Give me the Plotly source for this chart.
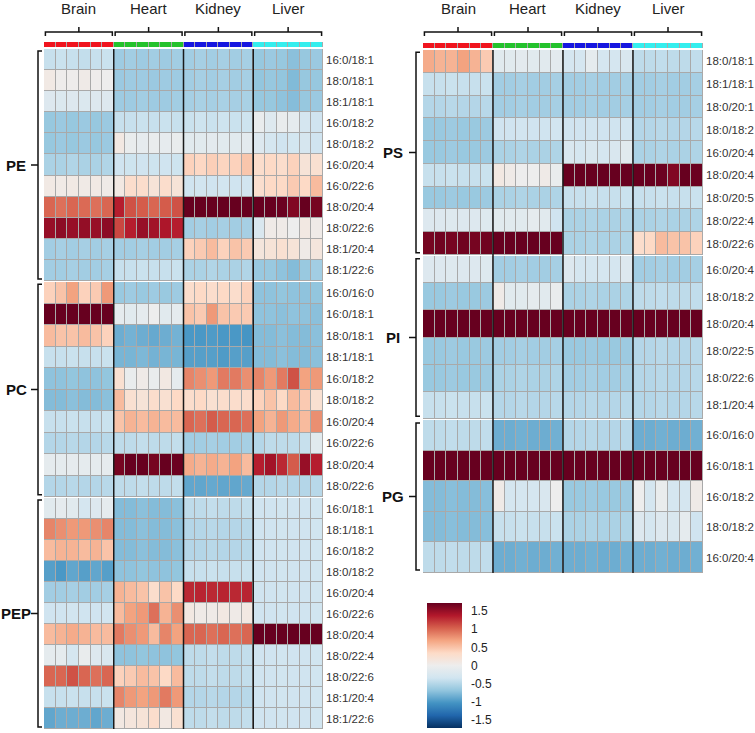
import plotly.graph_objects as go

# ---------------- data ----------------
tissues = ["Brain", "Heart", "Kidney", "Liver"]
n_rep = 6
tissue_colors = ["#f0141e", "#24c22c", "#1616e0", "#34eeee"]

PE_rows = ["16:0/18:1", "18:0/18:1", "18:1/18:1", "16:0/18:2", "18:0/18:2", "16:0/20:4",
           "16:0/22:6", "18:0/20:4", "18:0/22:6", "18:1/20:4", "18:1/22:6"]
PE_vals = [
    [-0.40, -0.38, -0.40, -0.42, -0.40, -0.38, -0.62, -0.60, -0.62, -0.60, -0.62, -0.60, -0.60, -0.58, -0.60, -0.58, -0.60, -0.58, -0.66, -0.64, -0.66, -0.72, -0.66, -0.64],
    [0.08, 0.02, 0.02, 0.05, 0.02, 0.00, -0.64, -0.62, -0.62, -0.64, -0.62, -0.62, -0.60, -0.58, -0.60, -0.58, -0.60, -0.58, -0.68, -0.66, -0.68, -0.76, -0.66, -0.66],
    [-0.20, -0.22, -0.20, -0.22, -0.20, -0.20, -0.62, -0.62, -0.60, -0.62, -0.62, -0.60, -0.58, -0.56, -0.58, -0.56, -0.58, -0.56, -0.66, -0.66, -0.70, -0.74, -0.66, -0.64],
    [-0.66, -0.64, -0.66, -0.64, -0.66, -0.64, -0.40, -0.40, -0.38, -0.40, -0.38, -0.40, -0.38, -0.36, -0.38, -0.36, -0.38, -0.36, -0.05, -0.18, -0.05, -0.10, -0.30, -0.35],
    [-0.66, -0.64, -0.66, -0.64, -0.66, -0.64, 0.10, -0.05, -0.08, -0.05, -0.08, -0.05, -0.15, -0.15, -0.12, -0.15, -0.15, -0.12, -0.20, -0.30, -0.35, -0.32, -0.28, -0.35],
    [-0.55, -0.55, -0.52, -0.55, -0.55, -0.52, -0.35, -0.36, -0.35, -0.36, -0.35, -0.36, 0.40, 0.36, 0.42, 0.38, 0.40, 0.48, 0.30, 0.35, 0.30, 0.40, 0.20, 0.25],
    [0.08, 0.06, 0.08, 0.06, 0.08, 0.05, 0.10, 0.30, 0.30, 0.20, 0.30, 0.20, -0.35, -0.33, -0.35, -0.33, -0.35, -0.33, 0.28, 0.35, 0.35, 0.45, 0.35, 0.55],
    [1.00, 0.95, 1.00, 0.98, 0.95, 1.00, 1.35, 1.10, 1.05, 1.00, 1.05, 1.10, 1.75, 1.72, 1.75, 1.72, 1.75, 1.72, 1.75, 1.75, 1.70, 1.60, 1.75, 1.65],
    [1.50, 1.55, 1.50, 1.52, 1.50, 1.55, 1.15, 1.35, 1.50, 1.45, 1.40, 1.35, -0.60, -0.58, -0.60, -0.58, -0.60, -0.58, -0.25, 0.05, 0.05, 0.00, 0.10, 0.05],
    [-0.60, -0.58, -0.60, -0.58, -0.60, -0.58, -0.60, -0.60, -0.58, -0.60, -0.60, -0.58, 0.40, 0.45, 0.55, 0.40, 0.50, 0.45, 0.15, 0.20, 0.25, 0.20, 0.05, 0.15],
    [-0.60, -0.60, -0.58, -0.60, -0.60, -0.58, -0.40, -0.40, -0.38, -0.40, -0.40, -0.38, -0.55, -0.55, -0.52, -0.55, -0.55, -0.52, -0.65, -0.65, -0.70, -0.75, -0.65, -0.60],
]

PC_rows = ["16:0/16:0", "16:0/18:1", "18:0/18:1", "18:1/18:1", "16:0/18:2", "18:0/18:2",
           "16:0/20:4", "16:0/22:6", "18:0/20:4", "18:0/22:6"]
PC_vals = [
    [0.40, 0.50, 0.70, 0.40, 0.45, 0.75, -0.65, -0.62, -0.65, -0.62, -0.65, -0.62, 0.30, 0.35, 0.30, 0.35, 0.30, 0.40, -0.70, -0.70, -0.68, -0.70, -0.70, -0.68],
    [1.75, 1.72, 1.75, 1.72, 1.75, 1.72, -0.10, -0.15, -0.10, 0.00, -0.15, -0.10, 0.50, 0.45, 0.75, 0.50, 0.45, 0.45, -0.70, -0.70, -0.72, -0.70, -0.70, -0.72],
    [0.55, 0.50, 0.50, 0.55, 0.50, 0.40, -0.85, -0.82, -0.85, -0.88, -0.85, -0.82, -1.00, -1.00, -0.98, -1.00, -1.00, -1.02, -0.75, -0.75, -0.72, -0.75, -0.75, -0.72],
    [-0.40, -0.40, -0.38, -0.40, -0.40, -0.38, -0.80, -0.80, -0.78, -0.82, -0.80, -0.80, -0.95, -0.95, -0.95, -0.98, -0.95, -0.95, -0.75, -0.75, -0.72, -0.75, -0.75, -0.72],
    [-0.70, -0.70, -0.68, -0.70, -0.70, -0.68, 0.25, -0.05, 0.05, -0.05, 0.10, -0.10, 0.85, 0.80, 0.75, 0.90, 0.90, 0.80, 0.85, 0.75, 0.90, 1.10, 0.70, 0.75],
    [-0.75, -0.75, -0.72, -0.75, -0.75, -0.72, 0.55, 0.25, 0.20, 0.30, 0.25, 0.35, 0.30, 0.35, 0.25, 0.30, 0.30, 0.30, 0.40, 0.50, 0.35, 0.55, 0.45, 0.25],
    [-0.40, -0.40, -0.38, -0.40, -0.40, -0.38, 0.50, 0.60, 0.55, 0.60, 0.55, 0.55, 1.00, 0.95, 1.05, 1.00, 1.00, 0.95, 0.70, 0.60, 0.75, 0.65, 0.55, 0.80],
    [-0.50, -0.50, -0.48, -0.50, -0.50, -0.48, -0.45, -0.45, -0.42, -0.45, -0.45, -0.42, -0.60, -0.60, -0.58, -0.60, -0.60, -0.58, -0.50, -0.45, -0.45, -0.45, -0.40, -0.15],
    [-0.10, -0.10, -0.08, -0.10, -0.10, -0.08, 1.65, 1.75, 1.75, 1.65, 1.75, 1.70, 0.65, 0.60, 0.65, 0.60, 0.70, 0.55, 1.35, 1.45, 1.30, 1.05, 1.50, 1.35],
    [-0.50, -0.50, -0.48, -0.50, -0.50, -0.48, -0.45, -0.45, -0.42, -0.45, -0.45, -0.42, -0.90, -0.90, -0.88, -0.90, -0.90, -0.88, -0.50, -0.50, -0.48, -0.50, -0.50, -0.48],
]

PEP_rows = ["16:0/18:1", "18:1/18:1", "16:0/18:2", "18:0/18:2", "16:0/20:4", "16:0/22:6",
            "18:0/20:4", "18:0/22:4", "18:0/22:6", "18:1/20:4", "18:1/22:6"]
PEP_vals = [
    [-0.15, -0.10, -0.15, -0.30, -0.20, -0.10, -0.75, -0.75, -0.72, -0.75, -0.75, -0.72, -0.45, -0.45, -0.42, -0.45, -0.45, -0.42, -0.35, -0.35, -0.34, -0.35, -0.35, -0.34],
    [0.85, 0.80, 0.75, 0.75, 0.80, 0.85, -0.75, -0.75, -0.72, -0.75, -0.75, -0.72, -0.50, -0.50, -0.48, -0.50, -0.50, -0.48, -0.35, -0.35, -0.34, -0.35, -0.35, -0.34],
    [0.55, 0.60, 0.60, 0.55, 0.60, 0.50, -0.75, -0.75, -0.72, -0.75, -0.75, -0.72, -0.50, -0.50, -0.48, -0.50, -0.50, -0.48, -0.35, -0.35, -0.34, -0.35, -0.35, -0.34],
    [-0.95, -1.00, -0.90, -0.95, -0.90, -0.95, -0.70, -0.70, -0.68, -0.70, -0.70, -0.68, -0.40, -0.40, -0.38, -0.40, -0.40, -0.38, -0.35, -0.35, -0.34, -0.35, -0.35, -0.34],
    [-0.60, -0.60, -0.58, -0.60, -0.60, -0.58, 0.60, 0.55, 0.50, 0.30, 0.50, 0.35, 1.30, 1.32, 1.30, 1.32, 1.30, 1.32, -0.35, -0.35, -0.34, -0.35, -0.35, -0.34],
    [-0.35, -0.35, -0.33, -0.35, -0.35, -0.33, 0.55, 0.70, 0.75, 0.95, 0.60, 0.80, 0.10, 0.05, 0.05, 0.10, 0.05, 0.10, -0.35, -0.35, -0.34, -0.35, -0.35, -0.34],
    [0.55, 0.60, 0.65, 0.60, 0.55, 0.55, 0.90, 0.80, 0.75, 0.55, 0.85, 0.70, 1.00, 1.00, 0.95, 1.00, 0.95, 1.00, 1.75, 1.75, 1.72, 1.75, 1.75, 1.72],
    [-0.10, -0.10, -0.30, -0.05, -0.20, -0.25, -0.70, -0.70, -0.68, -0.70, -0.70, -0.68, -0.45, -0.45, -0.42, -0.45, -0.45, -0.42, -0.35, -0.35, -0.34, -0.35, -0.35, -0.34],
    [1.00, 1.00, 1.10, 1.00, 0.95, 1.00, 0.40, 0.45, 0.55, 0.50, 0.35, 0.55, -0.45, -0.45, -0.42, -0.45, -0.45, -0.42, -0.35, -0.35, -0.34, -0.35, -0.35, -0.34],
    [-0.40, -0.40, -0.38, -0.40, -0.40, -0.38, 0.85, 0.75, 0.70, 0.75, 0.90, 0.75, -0.50, -0.50, -0.48, -0.50, -0.50, -0.48, -0.35, -0.35, -0.34, -0.35, -0.35, -0.34],
    [-0.90, -0.85, -0.85, -0.85, -0.90, -0.85, 0.10, 0.15, 0.20, 0.30, 0.10, 0.25, -0.45, -0.45, -0.42, -0.45, -0.45, -0.42, -0.35, -0.35, -0.34, -0.35, -0.35, -0.34],
]

PS_rows = ["18:0/18:1", "18:1/18:1", "18:0/20:1", "18:0/18:2", "16:0/20:4", "18:0/20:4",
           "18:0/20:5", "18:0/22:4", "18:0/22:6"]
PS_vals = [
    [0.65, 0.60, 0.60, 0.70, 0.60, 0.45, -0.15, -0.15, -0.12, -0.15, -0.15, -0.12, -0.30, -0.30, -0.10, -0.30, -0.30, -0.25, -0.45, -0.45, -0.43, -0.45, -0.45, -0.43],
    [-0.40, -0.40, -0.38, -0.40, -0.40, -0.38, -0.60, -0.60, -0.58, -0.60, -0.60, -0.58, -0.60, -0.60, -0.58, -0.60, -0.60, -0.58, -0.60, -0.60, -0.58, -0.60, -0.60, -0.58],
    [-0.50, -0.50, -0.48, -0.50, -0.50, -0.48, -0.60, -0.60, -0.58, -0.60, -0.60, -0.58, -0.60, -0.60, -0.58, -0.60, -0.60, -0.58, -0.60, -0.60, -0.58, -0.60, -0.60, -0.58],
    [-0.65, -0.65, -0.63, -0.65, -0.65, -0.63, -0.35, -0.35, -0.33, -0.35, -0.35, -0.33, -0.35, -0.35, -0.33, -0.35, -0.35, -0.33, -0.50, -0.50, -0.48, -0.50, -0.50, -0.48],
    [-0.65, -0.65, -0.63, -0.65, -0.65, -0.63, -0.55, -0.55, -0.53, -0.55, -0.55, -0.53, -0.25, -0.30, -0.25, -0.30, -0.25, -0.15, -0.55, -0.55, -0.53, -0.55, -0.55, -0.53],
    [-0.40, -0.40, -0.38, -0.40, -0.40, -0.38, 0.10, 0.05, 0.00, 0.00, 0.05, -0.05, 1.75, 1.75, 1.72, 1.75, 1.75, 1.72, 1.75, 1.75, 1.70, 1.60, 1.75, 1.70],
    [-0.65, -0.65, -0.63, -0.65, -0.65, -0.63, -0.55, -0.55, -0.53, -0.55, -0.55, -0.53, -0.40, -0.40, -0.38, -0.40, -0.40, -0.38, -0.40, -0.40, -0.38, -0.40, -0.40, -0.38],
    [-0.20, -0.20, -0.18, -0.20, -0.20, -0.18, -0.15, -0.15, -0.15, -0.10, -0.15, -0.35, -0.55, -0.55, -0.53, -0.55, -0.55, -0.53, -0.55, -0.55, -0.53, -0.55, -0.55, -0.53],
    [1.65, 1.68, 1.65, 1.68, 1.65, 1.68, 1.75, 1.75, 1.72, 1.75, 1.75, 1.72, -0.55, -0.55, -0.53, -0.55, -0.55, -0.53, 0.30, 0.35, 0.55, 0.50, 0.50, 0.40],
]

PI_rows = ["16:0/20:4", "18:0/18:2", "18:0/20:4", "18:0/22:5", "18:0/22:6", "18:1/20:4"]
PI_vals = [
    [-0.20, -0.20, -0.18, -0.20, -0.20, -0.18, -0.60, -0.60, -0.58, -0.60, -0.60, -0.58, -0.20, -0.30, -0.30, -0.30, -0.30, -0.20, -0.60, -0.60, -0.58, -0.60, -0.60, -0.58],
    [-0.65, -0.65, -0.63, -0.65, -0.65, -0.63, 0.05, -0.15, -0.15, -0.10, -0.15, -0.05, -0.55, -0.55, -0.53, -0.55, -0.55, -0.53, -0.45, -0.45, -0.43, -0.45, -0.45, -0.43],
    [1.75, 1.75, 1.72, 1.75, 1.75, 1.72, 1.75, 1.75, 1.72, 1.75, 1.75, 1.72, 1.75, 1.75, 1.72, 1.75, 1.75, 1.72, 1.75, 1.75, 1.72, 1.75, 1.75, 1.72],
    [-0.65, -0.65, -0.63, -0.65, -0.65, -0.63, -0.60, -0.60, -0.58, -0.60, -0.60, -0.58, -0.65, -0.65, -0.63, -0.65, -0.65, -0.63, -0.50, -0.50, -0.48, -0.50, -0.50, -0.48],
    [-0.65, -0.65, -0.63, -0.65, -0.65, -0.63, -0.55, -0.55, -0.53, -0.55, -0.55, -0.53, -0.60, -0.60, -0.58, -0.60, -0.60, -0.58, -0.50, -0.50, -0.48, -0.50, -0.50, -0.48],
    [-0.40, -0.40, -0.38, -0.40, -0.40, -0.38, -0.50, -0.50, -0.48, -0.50, -0.50, -0.48, -0.50, -0.50, -0.48, -0.50, -0.50, -0.48, -0.50, -0.50, -0.48, -0.50, -0.50, -0.48],
]

PG_rows = ["16:0/16:0", "16:0/18:1", "16:0/18:2", "18:0/18:2", "16:0/20:4"]
PG_vals = [
    [-0.45, -0.45, -0.43, -0.45, -0.45, -0.43, -0.85, -0.85, -0.83, -0.85, -0.85, -0.83, -0.50, -0.50, -0.48, -0.50, -0.50, -0.48, -0.85, -0.85, -0.83, -0.85, -0.85, -0.83],
    [1.75, 1.75, 1.72, 1.75, 1.75, 1.72, 1.75, 1.75, 1.72, 1.75, 1.75, 1.72, 1.75, 1.75, 1.72, 1.75, 1.75, 1.72, 1.75, 1.75, 1.72, 1.75, 1.75, 1.72],
    [-0.75, -0.75, -0.73, -0.75, -0.75, -0.73, 0.05, -0.30, -0.30, -0.30, -0.25, 0.00, -0.65, -0.65, -0.63, -0.65, -0.65, -0.63, 0.00, -0.30, -0.05, -0.30, -0.30, 0.05],
    [-0.75, -0.75, -0.73, -0.75, -0.75, -0.73, -0.40, -0.40, -0.38, -0.40, -0.40, -0.38, -0.55, -0.55, -0.53, -0.55, -0.55, -0.53, -0.20, -0.30, -0.20, -0.25, -0.10, -0.35],
    [-0.45, -0.45, -0.43, -0.45, -0.45, -0.43, -0.85, -0.85, -0.83, -0.85, -0.85, -0.83, -0.85, -0.85, -0.83, -0.85, -0.85, -0.83, -0.85, -0.85, -0.83, -0.85, -0.85, -0.83],
]

cbar_ticks = [-1.5, -1, -0.5, 0, 0.5, 1, 1.5]
cbar_text = ["-1.5", "-1", "-0.5", "0", "0.5", "1", "1.5"]

# ---------------- layout helpers ----------------
W, H = 755, 733
FONT = "Arial, Liberation Sans, sans-serif"


def fx(p):
    return p / W


def fy(p):
    return 1 - p / H


rdbu = ["#053061", "#2166AC", "#4393C3", "#92C5DE", "#D1E5F0", "#EDEDED",
        "#FDDBC7", "#F4A582", "#D6604D", "#B2182B", "#67001F"]
colorscale = [[i / (len(rdbu) - 1), c] for i, c in enumerate(rdbu)]

ncol = len(tissues) * n_rep
cols = list(range(ncol))

sides = [
    dict(x="x", x0=44, x1=323, strip=(42, 47), bx=38, lcx=16,
         groups=[("PE", PE_rows, PE_vals, 49, 281), ("PC", PC_rows, PC_vals, 282, 497),
                 ("PEP", PEP_rows, PEP_vals, 498, 729)]),
    dict(x="x2", x0=423, x1=703, strip=(43, 48), bx=416, lcx=393,
         groups=[("PS", PS_rows, PS_vals, 50, 255), ("PI", PI_rows, PI_vals, 256, 419),
                 ("PG", PG_rows, PG_vals, 420, 573)]),
]

fig = go.Figure()
layout = {}
shapes = []
annotations = []
yi = 0
strip_scale = []
for k, c in enumerate(tissue_colors):
    strip_scale += [[k / len(tissue_colors), c], [(k + 1) / len(tissue_colors), c]]

for s in sides:
    xname = s["x"]
    xkey = "xaxis" if xname == "x" else "xaxis" + xname[1:]
    first_y = None
    for (gname, rows, vals, top, bot) in s["groups"]:
        yi += 1
        yname = "y" if yi == 1 else f"y{yi}"
        ykey = "yaxis" if yi == 1 else f"yaxis{yi}"
        if first_y is None:
            first_y = yname
        n = len(rows)
        fig.add_trace(go.Heatmap(z=vals, x=cols, y=list(range(n)), xaxis=xname, yaxis=yname,
                                 coloraxis="coloraxis", xgap=1, ygap=1, hoverinfo="skip"))
        layout[ykey] = dict(domain=[fy(bot), fy(top)], anchor=xname, range=[n - 0.5, -0.5],
                            side="right", tickvals=list(range(n)), ticktext=rows, ticks="",
                            showgrid=False, zeroline=False, showline=False, fixedrange=True,
                            ticklabelstandoff=2, automargin=False,
                            tickfont=dict(family=FONT, size=11.5, color="#333333"))
        # group bracket
        bx = s["bx"]
        ya, yb, ym = -0.5 + 0.1, n - 0.5 - 0.1, (n - 1) / 2
        shapes.append(dict(type="path", xref="paper", yref=yname,
                           path=f"M {fx(bx + 4)},{ya} L {fx(bx)},{ya} L {fx(bx)},{yb} L {fx(bx + 4)},{yb} "
                                f"M {fx(bx)},{ym} L {fx(bx - 7)},{ym}",
                           line=dict(color="#111111", width=1.5)))
        annotations.append(dict(text=f"<b>{gname}</b>", x=fx(s["lcx"]), xref="paper", xanchor="center",
                                y=ym, yref=yname, yanchor="middle", showarrow=False,
                                font=dict(family=FONT, size=15, color="#111111")))
    # tissue separator lines
    gtop = s["groups"][0][3]
    gbot = s["groups"][-1][4]
    for t in range(1, len(tissues)):
        xb = t * n_rep - 0.5
        shapes.append(dict(type="line", xref=xname, yref="paper", x0=xb, x1=xb,
                           y0=fy(gtop), y1=fy(gbot), line=dict(color="#1a1a1a", width=1.5)))
    # colour strip
    yi += 1
    yname = f"y{yi}"
    ykey = f"yaxis{yi}"
    fig.add_trace(go.Heatmap(z=[[c // n_rep for c in cols]], x=cols, y=[0], xaxis=xname, yaxis=yname,
                             colorscale=strip_scale, zmin=0, zmax=len(tissues),
                             showscale=False, xgap=1, hoverinfo="skip"))
    layout[ykey] = dict(domain=[fy(s["strip"][1]), fy(s["strip"][0])], anchor=xname,
                        range=[0.5, -0.5], visible=False, fixedrange=True)
    layout[xkey] = dict(domain=[fx(s["x0"]), fx(s["x1"])], range=[-0.5, ncol - 0.5],
                        visible=False, anchor=first_y, fixedrange=True)
    # tissue brackets + labels
    for t, name in enumerate(tissues):
        xa = t * n_rep - 0.5 + 0.12
        xb = (t + 1) * n_rep - 0.5 - 0.12
        xm = (xa + xb) / 2
        shapes.append(dict(type="path", xref=xname, yref="paper",
                           path=f"M {xa},{fy(36)} L {xa},{fy(32)} L {xb},{fy(32)} L {xb},{fy(36)} "
                                f"M {xm},{fy(32)} L {xm},{fy(27)}",
                           line=dict(color="#111111", width=1.5)))
        annotations.append(dict(text=name, x=xm, xref=xname, xanchor="center",
                                y=fy(9), yref="paper", yanchor="middle", showarrow=False,
                                font=dict(family=FONT, size=15, color="#222222")))

fig.update_layout(
    **layout,
    width=W, height=H,
    margin=dict(l=0, r=0, t=0, b=0),
    paper_bgcolor="white",
    plot_bgcolor="#a9a9a9",
    showlegend=False,
    font=dict(family=FONT),
    shapes=shapes,
    annotations=annotations,
    coloraxis=dict(
        colorscale=colorscale, cmin=-1.72, cmax=1.72,
        colorbar=dict(
            thickness=35, thicknessmode="pixels", len=125, lenmode="pixels",
            x=fx(427), xanchor="left", y=fy(665.5), yanchor="middle",
            xpad=0, ypad=0, outlinewidth=0,
            tickvals=cbar_ticks, ticktext=cbar_text,
            ticks="outside", ticklen=7, tickcolor="rgba(0,0,0,0)",
            tickfont=dict(family=FONT, size=12, color="#222222"),
        ),
    ),
)

fig.write_html("out.html", config={"displayModeBar": False},
               post_script="document.body.style.margin='0';document.body.style.overflow='hidden';")
